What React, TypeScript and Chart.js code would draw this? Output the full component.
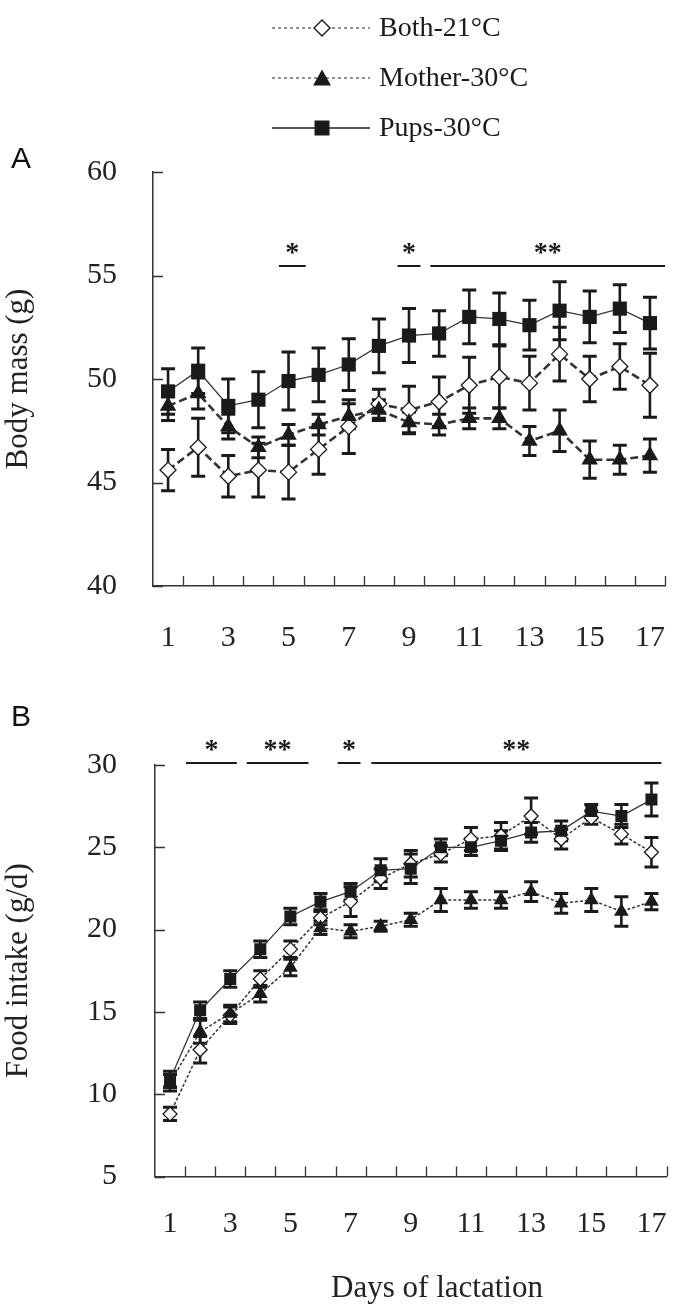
import React, { useEffect, useRef } from "react";
import { Chart, registerables } from "chart.js";

Chart.register(...registerables);

const SERIF = "'Liberation Serif', 'Times New Roman', serif";
const SANS = "'Liberation Sans', Arial, sans-serif";

// ---- data ----
const dayLabels = ["1", "2", "3", "4", "5", "6", "7", "8", "9", "10", "11", "12", "13", "14", "15", "16", "17"];
const shownDayLabels = ["1", "3", "5", "7", "9", "11", "13", "15", "17"];
const seriesNames = ["Both-21°C", "Mother-30°C", "Pups-30°C"];

const massBoth = [45.6, 46.7, 45.3, 45.6, 45.5, 46.6, 47.7, 48.8, 48.5, 48.9, 49.7, 50.1, 49.8, 51.2, 50.0, 50.6, 49.7];
const massBothErr = [1.0, 1.4, 1.0, 1.3, 1.3, 1.2, 1.3, 0.7, 1.15, 1.2, 1.35, 1.5, 1.3, 1.3, 1.1, 1.1, 1.55];
const massMother = [48.7, 49.3, 47.7, 46.7, 47.3, 47.8, 48.2, 48.5, 47.9, 47.8, 48.1, 48.1, 47.0, 47.5, 46.1, 46.1, 46.3];
const massMotherErr = [0.7, 0.75, 0.6, 0.5, 0.5, 0.5, 0.6, 0.5, 0.5, 0.5, 0.5, 0.5, 0.7, 1.0, 0.9, 0.7, 0.8];
const massPups = [49.4, 50.4, 48.7, 49.0, 49.9, 50.2, 50.7, 51.6, 52.1, 52.2, 53.0, 52.9, 52.6, 53.3, 53.0, 53.4, 52.7];
const massPupsErr = [1.1, 1.1, 1.3, 1.35, 1.4, 1.3, 1.25, 1.3, 1.3, 1.1, 1.3, 1.25, 1.2, 1.4, 1.25, 1.15, 1.25];

const intakeBoth = [8.8, 12.7, 14.8, 17.0, 18.8, 20.7, 21.7, 23.1, 24.0, 24.6, 25.5, 25.7, 26.9, 25.5, 26.8, 25.8, 24.7];
const intakeBothErr = [0.4, 0.8, 0.5, 0.5, 0.5, 0.4, 0.9, 0.6, 0.8, 0.5, 0.7, 0.8, 1.1, 0.6, 0.4, 0.6, 0.9];
const intakeMother = [10.7, 13.8, 14.9, 16.1, 17.7, 20.1, 19.9, 20.2, 20.6, 21.8, 21.8, 21.8, 22.3, 21.6, 21.8, 21.1, 21.7];
const intakeMotherErr = [0.5, 0.7, 0.5, 0.5, 0.5, 0.4, 0.4, 0.3, 0.4, 0.7, 0.5, 0.5, 0.6, 0.6, 0.7, 0.9, 0.5];
const intakePups = [10.9, 15.1, 17.0, 18.8, 20.8, 21.7, 22.3, 23.6, 23.7, 25.0, 25.0, 25.4, 25.9, 26.0, 27.2, 26.9, 27.9];
const intakePupsErr = [0.5, 0.5, 0.5, 0.5, 0.5, 0.5, 0.5, 0.7, 0.9, 0.5, 0.5, 0.6, 0.6, 0.6, 0.4, 0.7, 1.0];

// significance bars: from index, to index, label
const massSigFrom = [3.68, 7.62, 8.71];
const massSigTo = [4.57, 8.38, 16.5];
const massSigLabel = ["*", "*", "**"];
const massSigLevel = 55.46;
const massSigTextLevel = 56.35;

const intakeSigFrom = [0.53, 2.55, 5.57, 6.69];
const intakeSigTo = [2.22, 4.6, 6.33, 16.33];
const intakeSigLabel = ["*", "**", "*", "**"];
const intakeSigLevel = 30.12;
const intakeSigTextLevel = 31.2;

const INK = "#1a1a1a";

function errorBarsPlugin(capHalf: number) {
  return {
    id: "errorBars",
    beforeDatasetsDraw(chart: any) {
      const ctx = chart.ctx;
      const xs = chart.scales.x;
      const ys = chart.scales.y;
      ctx.save();
      ctx.setLineDash([]);
      ctx.strokeStyle = INK;
      chart.data.datasets.forEach((ds: any) => {
        const errs: number[] = ds.errors;
        if (!errs) return;
        ds.data.forEach((v: number, i: number) => {
          const px = xs.getPixelForValue(i);
          const top = ys.getPixelForValue(v + errs[i]);
          const bot = ys.getPixelForValue(v - errs[i]);
          ctx.lineWidth = 2.6;
          ctx.beginPath();
          ctx.moveTo(px, top);
          ctx.lineTo(px, bot);
          ctx.stroke();
          ctx.lineWidth = 3;
          ctx.beginPath();
          ctx.moveTo(px - capHalf, top);
          ctx.lineTo(px + capHalf, top);
          ctx.moveTo(px - capHalf, bot);
          ctx.lineTo(px + capHalf, bot);
          ctx.stroke();
        });
      });
      ctx.restore();
    },
  };
}

const innerTicksPlugin = {
  id: "innerTicks",
  afterDraw(chart: any) {
    const ctx = chart.ctx;
    const xs = chart.scales.x;
    const ys = chart.scales.y;
    const area = chart.chartArea;
    ctx.save();
    ctx.setLineDash([]);
    ctx.strokeStyle = "#333";
    ctx.lineWidth = 1.3;
    ctx.beginPath();
    ys.ticks.forEach((t: any) => {
      const py = Math.round(ys.getPixelForValue(t.value)) + 0.5;
      ctx.moveTo(area.left, py);
      ctx.lineTo(area.left + 10, py);
    });
    for (let i = 1; i <= dayLabels.length; i++) {
      const px = Math.round(xs.getPixelForValue(i - 0.5)) + 0.5;
      ctx.moveTo(px, area.bottom);
      ctx.lineTo(px, area.bottom - 10);
    }
    ctx.stroke();
    ctx.restore();
  },
};

function sigPlugin(from: number[], to: number[], labels: string[], level: number, textLevel: number) {
  return {
    id: "sigBars",
    afterDraw(chart: any) {
      const ctx = chart.ctx;
      const xs = chart.scales.x;
      const ys = chart.scales.y;
      const py = ys.getPixelForValue(level);
      const ty = ys.getPixelForValue(textLevel);
      ctx.save();
      ctx.setLineDash([]);
      ctx.strokeStyle = INK;
      ctx.fillStyle = INK;
      ctx.lineWidth = 2;
      ctx.font = `bold 28px ${SERIF}`;
      ctx.textAlign = "center";
      ctx.textBaseline = "middle";
      from.forEach((f, i) => {
        const x1 = xs.getPixelForValue(f);
        const x2 = xs.getPixelForValue(to[i]);
        ctx.beginPath();
        ctx.moveTo(x1, py);
        ctx.lineTo(x2, py);
        ctx.stroke();
        ctx.fillText(labels[i], (x1 + x2) / 2, ty + 6);
      });
      ctx.restore();
    },
  };
}

function drawMarker(ctx: CanvasRenderingContext2D, kind: string, x: number, y: number) {
  ctx.save();
  ctx.setLineDash([]);
  ctx.beginPath();
  if (kind === "diamond") {
    const r = 8;
    ctx.moveTo(x, y - r);
    ctx.lineTo(x + r, y);
    ctx.lineTo(x, y + r);
    ctx.lineTo(x - r, y);
    ctx.closePath();
    ctx.fillStyle = "#fff";
    ctx.fill();
    ctx.strokeStyle = INK;
    ctx.lineWidth = 1.4;
    ctx.stroke();
  } else if (kind === "triangle") {
    const h = 15;
    const w = 18;
    ctx.moveTo(x, y - h / 2 - 1);
    ctx.lineTo(x + w / 2, y + h / 2);
    ctx.lineTo(x - w / 2, y + h / 2);
    ctx.closePath();
    ctx.fillStyle = INK;
    ctx.fill();
  } else {
    const s = 15;
    ctx.rect(x - s / 2, y - s / 2, s, s);
    ctx.fillStyle = INK;
    ctx.fill();
  }
  ctx.restore();
}

const legendPlugin = {
  id: "customLegend",
  afterDraw(chart: any) {
    const ctx = chart.ctx;
    const rows = [28, 78, 128];
    const kinds = ["diamond", "triangle", "square"];
    ctx.save();
    rows.forEach((y, i) => {
      ctx.strokeStyle = "#222";
      if (i < 2) {
        ctx.setLineDash([3, 3]);
        ctx.lineWidth = 1.2;
      } else {
        ctx.setLineDash([]);
        ctx.lineWidth = 1.6;
      }
      ctx.beginPath();
      ctx.moveTo(272, y);
      ctx.lineTo(370, y);
      ctx.stroke();
      drawMarker(ctx, kinds[i], 322, y);
      ctx.setLineDash([]);
      ctx.fillStyle = "#1a1a1a";
      ctx.font = `28px ${SERIF}`;
      ctx.textAlign = "left";
      ctx.textBaseline = "middle";
      ctx.fillText(seriesNames[i], 379, y + 1);
    });
    ctx.font = `30px ${SANS}`;
    ctx.fillStyle = "#111";
    ctx.textAlign = "left";
    ctx.textBaseline = "middle";
    ctx.fillText("A", 11, 160);
    ctx.restore();
  },
};

const bottomTextPlugin = {
  id: "bottomText",
  afterDraw(chart: any) {
    const ctx = chart.ctx;
    ctx.save();
    ctx.fillStyle = "#111";
    ctx.font = `30px ${SANS}`;
    ctx.textAlign = "left";
    ctx.textBaseline = "middle";
    ctx.fillText("B", 11, 58);
    ctx.fillStyle = "#222";
    ctx.font = `31px ${SERIF}`;
    ctx.textAlign = "center";
    ctx.fillText("Days of lactation", 437, 629);
    ctx.restore();
  },
};

function makeDatasets(
  both: number[], bothErr: number[], mother: number[], motherErr: number[], pups: number[], pupsErr: number[],
  dashed: number[], dashWidth: number, sizes: { diamond: number; tri: number; rect: number }
) {
  return [
    {
      label: seriesNames[2],
      data: pups,
      errors: pupsErr,
      borderColor: "#333",
      borderWidth: 1.3,
      pointStyle: "rect",
      pointRadius: sizes.rect,
      pointBackgroundColor: INK,
      pointBorderColor: INK,
      pointBorderWidth: 0,
      tension: 0,
      fill: false,
    },
    {
      label: seriesNames[1],
      data: mother,
      errors: motherErr,
      borderColor: "#333",
      borderWidth: dashWidth,
      borderDash: dashed,
      pointStyle: "triangle",
      pointRadius: sizes.tri,
      pointBackgroundColor: INK,
      pointBorderColor: INK,
      pointBorderWidth: 0,
      tension: 0,
      fill: false,
    },
    {
      label: seriesNames[0],
      data: both,
      errors: bothErr,
      borderColor: "#333",
      borderWidth: dashWidth,
      borderDash: dashed,
      pointStyle: "rectRot",
      pointRadius: sizes.diamond,
      pointBackgroundColor: "#fff",
      pointBorderColor: INK,
      pointBorderWidth: 1.3,
      tension: 0,
      fill: false,
    },
  ];
}

function xScale(padding: number, height: number) {
  return {
    type: "category",
    offset: true,
    grid: { display: false, offset: true },
    border: { display: true, color: "#333", width: 1.5 },
    ticks: {
      autoSkip: false,
      maxRotation: 0,
      minRotation: 0,
      padding,
      color: "#222",
      font: { family: SERIF, size: 30 },
      callback: (_v: any, i: number) => (shownDayLabels.includes(dayLabels[i]) ? dayLabels[i] : ""),
    },
    afterFit: (s: any) => {
      s.height = height;
      s.paddingLeft = 0;
      s.paddingRight = 0;
    },
  };
}

function yScale(min: number, max: number, padding: number, width: number, title: string) {
  return {
    min,
    max,
    grid: { display: false },
    border: { display: true, color: "#333", width: 1.5 },
    ticks: { stepSize: 5, padding, color: "#222", font: { family: SERIF, size: 30 } },
    title: { display: true, text: title, color: "#222", font: { family: SERIF, size: 31 }, padding: { top: 0, bottom: 0 } },
    afterFit: (s: any) => {
      s.width = width;
    },
  };
}

export default function App() {
  const refA = useRef<HTMLCanvasElement>(null);
  const refB = useRef<HTMLCanvasElement>(null);

  useEffect(() => {
    const chartA = new Chart(refA.current as HTMLCanvasElement, {
      type: "line",
      data: {
        labels: dayLabels,
        datasets: makeDatasets(massBoth, massBothErr, massMother, massMotherErr, massPups, massPupsErr, [8, 4], 2.6, {
          diamond: 8,
          tri: 9.5,
          rect: 10,
        }) as any,
      },
      options: {
        responsive: false,
        animation: false,
        events: [],
        layout: { padding: { left: 0, top: 172, right: 10, bottom: 0 } },
        plugins: { legend: { display: false }, tooltip: { enabled: false } },
        scales: {
          x: xScale(26, 74) as any,
          y: yScale(40, 60, 28, 153, "Body mass (g)") as any,
        },
      },
      plugins: [
        errorBarsPlugin(7),
        innerTicksPlugin,
        sigPlugin(massSigFrom, massSigTo, massSigLabel, massSigLevel, massSigTextLevel),
        legendPlugin,
      ],
    });

    const chartB = new Chart(refB.current as HTMLCanvasElement, {
      type: "line",
      data: {
        labels: dayLabels,
        datasets: makeDatasets(
          intakeBoth, intakeBothErr, intakeMother, intakeMotherErr, intakePups, intakePupsErr, [3, 2], 1.5,
          { diamond: 7, tri: 8.5, rect: 8.5 }
        ) as any,
      },
      options: {
        responsive: false,
        animation: false,
        events: [],
        layout: { padding: { left: 0, top: 105, right: 7, bottom: 0 } },
        plugins: { legend: { display: false }, tooltip: { enabled: false } },
        scales: {
          x: xScale(22, 128.5) as any,
          y: yScale(5, 30, 30, 155, "Food intake (g/d)") as any,
        },
      },
      plugins: [
        errorBarsPlugin(7),
        innerTicksPlugin,
        sigPlugin(intakeSigFrom, intakeSigTo, intakeSigLabel, intakeSigLevel, intakeSigTextLevel),
        bottomTextPlugin,
      ],
    });

    return () => {
      chartA.destroy();
      chartB.destroy();
    };
  }, []);

  return (
    <div style={{ position: "absolute", left: 0, top: 0, width: 675, height: 1305, background: "#fff", overflow: "hidden" }}>
      <canvas ref={refA} width={675} height={660} style={{ position: "absolute", left: 0, top: 0, width: 675, height: 660 }} />
      <canvas ref={refB} width={675} height={645} style={{ position: "absolute", left: 0, top: 660, width: 675, height: 645 }} />
    </div>
  );
}
